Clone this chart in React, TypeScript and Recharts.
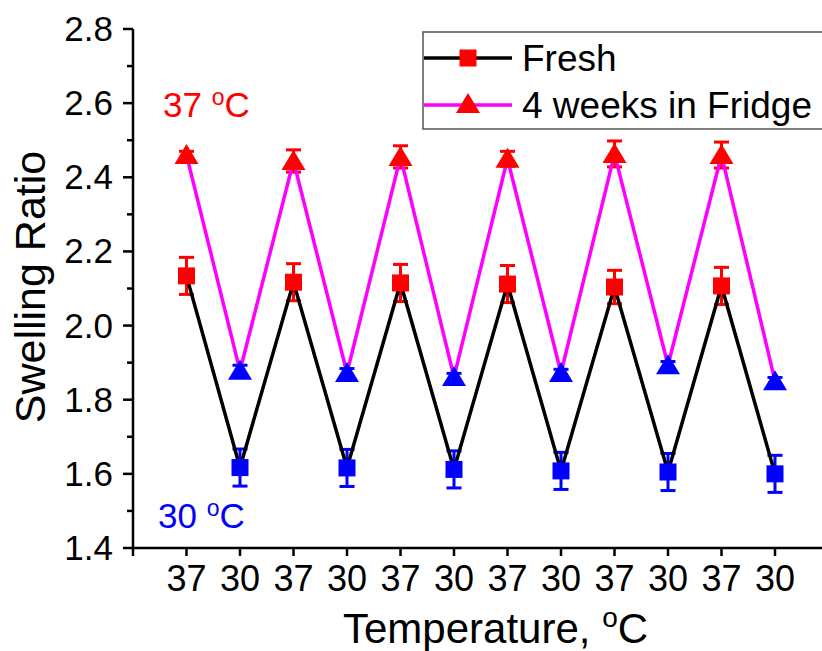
import React from 'react';
import { LineChart, Line, XAxis, YAxis, ErrorBar, Legend } from 'recharts';

const temps = ['37', '30', '37', '30', '37', '30', '37', '30', '37', '30', '37', '30'];
const fresh = [2.134, 1.617, 2.117, 1.616, 2.115, 1.612, 2.112, 1.608, 2.104, 1.605, 2.107, 1.6];
const freshErr = [0.05, 0.05, 0.05, 0.05, 0.05, 0.05, 0.05, 0.05, 0.045, 0.05, 0.05, 0.05];
const fridge = [2.46, 1.878, 2.444, 1.872, 2.455, 1.861, 2.45, 1.872, 2.463, 1.893, 2.46, 1.85];
const fridgeErr = [0.01, 0.015, 0.03, 0.012, 0.03, 0.01, 0.02, 0.01, 0.035, 0.01, 0.035, 0.01];
const seriesNames = ['Fresh', '4 weeks in Fridge'];
const yTicks = [1.4, 1.5, 1.6, 1.7, 1.8, 1.9, 2.0, 2.1, 2.2, 2.3, 2.4, 2.5, 2.6, 2.7, 2.8];
const xTicks = [0, 1, 2, 3, 4, 5, 6, 7, 8, 9, 10, 11, 12, 13];

const RED = '#ff0000';
const BLUE = '#0000ff';
const MAGENTA = '#ff00ff';

const data = temps.map((t, i) => ({
  x: i + 1,
  temp: t,
  fresh: fresh[i],
  fridge: fridge[i],
  freshErr37: t === '37' ? freshErr[i] : undefined,
  freshErr30: t === '30' ? freshErr[i] : undefined,
  fridgeErr37: t === '37' ? fridgeErr[i] : undefined,
  fridgeErr30: t === '30' ? fridgeErr[i] : undefined,
}));

const Square = ({ cx, cy, fill }: any) => (
  <rect x={cx - 8.5} y={cy - 8.5} width={17} height={17} fill={fill} />
);

const Triangle = ({ cx, cy, fill }: any) => (
  <polygon points={`${cx},${cy - 11} ${cx - 12},${cy + 9} ${cx + 12},${cy + 9}`} fill={fill} />
);

const squareDot = (props: any) => {
  const { cx, cy, payload, index } = props;
  return <Square key={index} cx={cx} cy={cy} fill={payload.temp === '37' ? RED : BLUE} />;
};

const triangleDot = (props: any) => {
  const { cx, cy, payload, index } = props;
  return <Triangle key={index} cx={cx} cy={cy} fill={payload.temp === '37' ? RED : BLUE} />;
};

const YTick = (props: any) => {
  const { x, y, payload, index } = props;
  const major = index % 2 === 0;
  return (
    <g>
      <line x1={major ? x + 10 : x + 14} x2={x + 20} y1={y} y2={y} stroke="#000" strokeWidth={2.5} />
      {major && (
        <text x={x} y={y} dy={12} textAnchor="end" fontSize={35} fill="#000">
          {payload.value.toFixed(1)}
        </text>
      )}
    </g>
  );
};

const renderLegend = (props: any) => {
  const items = [...(props.payload || [])].sort(
    (a: any, b: any) => seriesNames.indexOf(a.value) - seriesNames.indexOf(b.value),
  );
  return (
    <svg width={402} height={100} style={{ display: 'block' }}>
      <rect x={1} y={1} width={420} height={97} fill="#fff" stroke="#555" strokeWidth={1.5} />
      {items.map((item: any, i: number) => {
        const cy = 27 + i * 47;
        return (
          <g key={item.value}>
            <line x1={2} x2={90} y1={cy} y2={cy} stroke={item.color} strokeWidth={3.5} />
            {i === 0 ? (
              <Square cx={46} cy={cy} fill={RED} />
            ) : (
              <Triangle cx={46} cy={cy - 1} fill={RED} />
            )}
            <text x={100} y={cy + 13} fontSize={37} fill="#000">
              {item.value}
            </text>
          </g>
        );
      })}
    </svg>
  );
};

export default function App() {
  return (
    <div
      style={{
        position: 'absolute',
        left: 0,
        top: 0,
        width: 822,
        height: 651,
        overflow: 'hidden',
        background: '#fff',
        fontFamily: '"Liberation Sans", Arial, sans-serif',
      }}
    >
      <LineChart width={840} height={651} data={data} margin={{ top: 29, right: 11.5, left: 0, bottom: 0 }}>
        <XAxis
          xAxisId="top"
          orientation="top"
          type="number"
          dataKey="x"
          domain={[0, 13]}
          height={0}
          tick={false}
          tickLine={false}
          axisLine={{ stroke: '#000', strokeWidth: 2.5 }}
        />
        <XAxis
          type="number"
          dataKey="x"
          domain={[0, 13]}
          ticks={xTicks}
          interval={0}
          height={103}
          tickSize={8}
          tickMargin={9}
          tickFormatter={(v: number) => (v >= 1 && v <= temps.length ? temps[v - 1] : '')}
          tick={{ fontSize: 36, fill: '#000' }}
          tickLine={{ stroke: '#000', strokeWidth: 2.5 }}
          axisLine={{ stroke: '#000', strokeWidth: 2.5 }}
        />
        <YAxis
          type="number"
          domain={[1.4, 2.8]}
          ticks={yTicks}
          interval={0}
          width={133}
          tickSize={10}
          tickMargin={10}
          tickLine={false}
          tick={<YTick />}
          axisLine={{ stroke: '#000', strokeWidth: 2.5 }}
        />
        <Legend
          layout="horizontal"
          verticalAlign="middle"
          align="center"
          content={renderLegend}
          wrapperStyle={{ position: 'absolute', left: 422, top: 31, width: 402, height: 100 }}
        />
        <Line
          name="Fresh"
          dataKey="fresh"
          stroke="#000"
          strokeWidth={3.5}
          dot={squareDot}
          activeDot={false}
          isAnimationActive={false}
        >
          <ErrorBar dataKey="freshErr37" width={7.5} strokeWidth={3} stroke={RED} />
          <ErrorBar dataKey="freshErr30" width={7.5} strokeWidth={3} stroke={BLUE} />
        </Line>
        <Line
          name="4 weeks in Fridge"
          dataKey="fridge"
          stroke={MAGENTA}
          strokeWidth={3.5}
          dot={triangleDot}
          activeDot={false}
          isAnimationActive={false}
        >
          <ErrorBar dataKey="fridgeErr37" width={7.5} strokeWidth={3} stroke={RED} />
          <ErrorBar dataKey="fridgeErr30" width={7.5} strokeWidth={3} stroke={BLUE} />
        </Line>
        <text x={163} y={117} fontSize={35} fill={RED}>
          37 <tspan fontSize={23} dy={-12}>o</tspan>
          <tspan dy={12}>C</tspan>
        </text>
        <text x={158} y={528} fontSize={35} fill={BLUE}>
          30 <tspan fontSize={23} dy={-12}>o</tspan>
          <tspan dy={12}>C</tspan>
        </text>
        <text x={30} y={287} dy="0.36em" transform="rotate(-90 30 287)" textAnchor="middle" fontSize={43} fill="#000">
          Swelling Ratio
        </text>
        <text x={343} y={643} fontSize={42} fill="#000">
          Temperature, <tspan fontSize={28} dy={-16}>o</tspan>
          <tspan dy={16}>C</tspan>
        </text>
      </LineChart>
    </div>
  );
}
